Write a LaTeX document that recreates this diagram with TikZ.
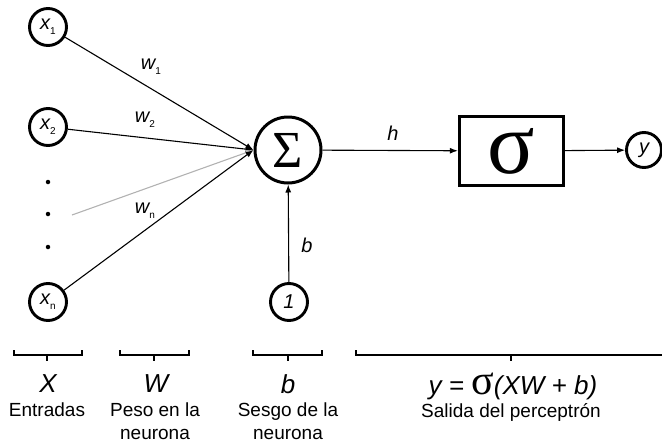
\documentclass[tikz,border=0pt]{standalone}
\usepackage{fontspec}
\setmainfont{Liberation Sans}
\newfontfamily\greekserif{Liberation Serif}
\usetikzlibrary{arrows.meta}
\newcommand\idx[1]{\raisebox{-0.45ex}{\fontsize{10}{10}\selectfont\upshape #1}}
\newcommand\bracket[3]{%
  \draw[bracketline] (#1,350) -- (#1,355) -- (#2,355) -- (#2,350);
  \draw[bracketline] (#3,355) -- (#3,361);}
\begin{document}
\begin{tikzpicture}[x=1pt,y=-1pt,
  unit/.style={circle,draw,line width=2.9pt,minimum size=37pt,inner sep=0pt,
    font=\fontsize{20}{20}\selectfont\itshape},
  conn/.style={line width=1.1pt,-{Latex[length=8pt,width=6pt]}},
  wlabel/.style={font=\fontsize{20}{20}\selectfont\itshape,inner sep=0pt},
  dot/.style={circle,fill,inner sep=0pt,minimum size=4.5pt},
  bracketline/.style={line width=1.1pt},
  symlabel/.style={font=\fontsize{26}{26}\selectfont\itshape,inner sep=0pt},
  caption/.style={font=\fontsize{19}{23}\selectfont,inner sep=0pt,align=center},
]
\useasboundingbox (0,0) rectangle (662,445);

% inputs
\node[unit] (x1) at (48,27) {x\idx{1}};
\node[unit] (x2) at (48,127) {x\idx{2}};
\node[dot] (d1) at (48,182) {};
\node[dot] (d2) at (48,214) {};
\node[dot] (d3) at (48,247) {};
\node[unit] (xn) at (48,302) {x\idx{n}};
\coordinate (g) at (72,215);

% summation, bias, activation, output
\node[circle,draw,line width=3pt,minimum size=66pt,inner sep=0pt,
  font=\greekserif\fontsize{52}{52}\selectfont] (sum) at (288,150) {Σ};
\node[unit] (one) at (289,302) {1};
\node[draw,line width=3.4pt,minimum width=104pt,minimum height=69pt,inner sep=0pt,
  font=\greekserif\fontsize{88}{88}\selectfont] (act) at (511.5,151) {σ};
\node[unit,minimum size=35pt] (out) at (644,150) {y};

% connectors
\draw[conn] (x1) -- (sum.west);
\draw[conn] (x2) -- (sum.west);
\draw[conn,draw=black!30] (g) -- (sum.west);
\draw[conn] (xn) -- (sum.west);
\draw[conn] (one) -- (sum);
\draw[conn] (sum) -- (act);
\draw[conn] (act) -- (out);

% connector labels
\node[wlabel] (w1) at (151,67) {w\idx{1}};
\node[wlabel] (w2) at (145,120) {w\idx{2}};
\node[wlabel] (wn) at (145,211) {w\idx{n}};
\node[wlabel] (h) at (393,133) {h};
\node[wlabel] (b) at (307,245) {b};

% brackets
\bracket{14}{82}{47}
\bracket{120}{189}{154}
\bracket{253}{322}{288}
\bracket{356}{666}{511}

% legends
\node[symlabel] (lx) at (48,384) {X};
\node[symlabel] (lw) at (156,384) {W};
\node[symlabel] (lb) at (288,384) {b};
\node[symlabel] (ly) at (513,386) {y = {\greekserif\upshape\fontsize{42}{42}\selectfont σ}(XW + b)};
\node[caption,anchor=north] (cx) at (47,403) {Entradas};
\node[caption,anchor=north] (cw) at (155,403) {Peso en la\\neurona};
\node[caption,anchor=north] (cb) at (288,403) {Sesgo de la\\neurona};
\node[caption,anchor=north] (cy) at (511,403) {Salida del perceptrón};
\end{tikzpicture}
\end{document}
